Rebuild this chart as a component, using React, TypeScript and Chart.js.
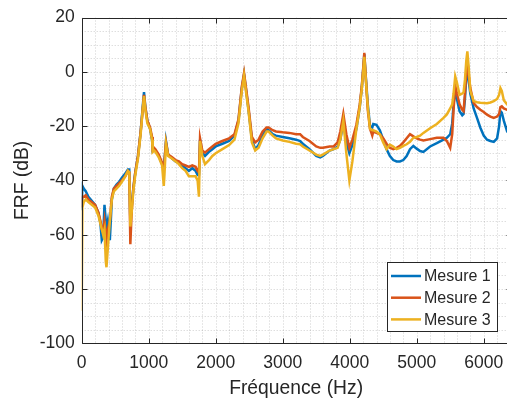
import React, { useEffect, useRef } from "react";
import { Chart, registerables } from "chart.js";

Chart.register(...registerables);

// Frequencies (Hz)
const freqs = [
  0, 10, 30, 60, 100, 150, 200, 250, 280, 300, 320, 340, 360, 370, 390, 420, 450, 480, 520, 560,
  600, 650, 690, 710, 726, 745, 770, 800, 840, 880, 910, 930, 950, 980, 1020, 1050, 1060, 1080, 1100, 1150,
  1200, 1225, 1235, 1258, 1290, 1350, 1400, 1450, 1500, 1550, 1600, 1650, 1700, 1730, 1750, 1766, 1800, 1840, 1900, 1950,
  2000, 2100, 2200, 2280, 2340, 2390, 2423, 2450, 2490, 2540, 2590, 2640, 2700, 2760, 2790, 2850, 2900, 3000, 3100, 3200,
  3260, 3300, 3400, 3500, 3560, 3600, 3700, 3760, 3820, 3860, 3905, 3950, 3995, 4040, 4100, 4150, 4180, 4205, 4218, 4235,
  4270, 4303, 4337, 4352, 4400, 4450, 4500, 4550, 4600, 4650, 4700, 4750, 4800, 4850, 4900, 4950, 5000, 5050, 5100, 5200,
  5300, 5400, 5450, 5500, 5530, 5550, 5575, 5600, 5640, 5680, 5700, 5720, 5740, 5756, 5775, 5800, 5850, 5900, 5950, 6000,
  6050, 6100, 6150, 6200, 6230, 6250, 6270, 6300, 6350, 6400,
];

// FRF (dB)
const mesure1 = [
  -51, -42, -43, -44, -46, -47.5, -49, -52, -56, -62, -61, -49, -55, -58, -55, -62, -47, -43, -41.5, -40.5,
  -39, -37.5, -36, -36, -55, -50, -43, -37, -31, -22, -13, -7.5, -13, -18, -21, -25, -29, -28.5, -29, -31,
  -34, -36, -33, -25.5, -30.5, -32, -33, -33.5, -34.5, -35.5, -36.5, -35.5, -36.5, -38, -38, -25, -30, -31, -29.5, -28.5,
  -27.5, -26.5, -25.5, -23.5, -18, -6, -1, -6, -14, -25, -28.5, -27, -23.5, -21, -21.5, -23, -23.5, -24, -24.5, -25,
  -25.5, -26.5, -28.5, -31, -31.5, -31, -29, -28.5, -27.5, -25, -18.5, -26, -30, -27, -21, -13, -6, 2, 6.5, 0,
  -12, -20, -20.5, -19.2, -19.5, -21.5, -25, -28.5, -31, -32.5, -33, -33, -32.5, -31, -28.5, -27.3, -28.3, -29.2, -29.5, -27.5,
  -26.3, -25, -24.3, -23, -19, -12, -7, -10, -14.5, -16, -15.5, -10, -2, 3, -3, -8, -13.5, -17, -20.6, -23.5,
  -25, -25.5, -25.8, -24.5, -20, -14.5, -15, -18, -22, -23,
];

const mesure2 = [
  -50, -46, -46, -45.5, -47, -48, -49, -52, -55, -58, -59, -55, -60, -62, -58, -55, -46, -43, -42, -41,
  -40, -38.5, -36.5, -37, -63.5, -52, -43, -37, -31, -22, -14, -8.5, -13, -18, -20.5, -24, -28.5, -28, -28.5, -30.5,
  -33.5, -35, -33, -26, -30.5, -31.5, -32.5, -33, -34, -34.5, -35, -34.5, -35, -36.5, -37, -24.5, -29, -29.8, -28.5, -27.5,
  -26.5, -25.5, -24.5, -23, -17.5, -5.5, -0.5, -5.5, -13, -24, -26, -25, -22, -20.5, -20.5, -21.5, -22, -22.3, -22.5, -23,
  -23, -24, -25.5, -27.5, -28, -28, -27.5, -27.5, -26, -22, -15.5, -23, -28, -25, -19.5, -12, -5.5, 2.5, 7, 0,
  -14, -21, -23.5, -22, -22.5, -23, -24.5, -26.5, -28, -28.5, -28, -27.3, -26, -24.5, -23, -23.8, -24.5, -25, -25.3, -24.8,
  -24.3, -24.3, -25.5, -28, -23, -14, -5, -8, -12, -14, -14.5, -8, 0, 5, -1, -6, -11.5, -13, -14, -14.8,
  -15.8, -16.5, -17, -16.5, -15.5, -13, -12.7, -13.5, -14, -14.2,
];

const mesure3 = [
  -88, -50, -48, -47, -48, -49, -50, -53, -56, -58, -60, -58, -70, -72, -65, -55, -47, -44, -43, -42,
  -40.5, -38.5, -36.5, -37, -57, -52, -44, -38, -32, -23, -14, -9, -14, -19, -21, -25, -29.5, -29, -29.5, -31.5,
  -34.5, -42, -38, -26.5, -31, -32, -33, -34, -35.5, -36.5, -38.5, -38.5, -38.5, -40, -46, -25.5, -31, -34, -32.5, -31,
  -30, -28.5, -27, -25, -19, -7, -1.5, -7, -14.5, -26, -29, -28, -24.5, -22, -22, -23.5, -24.5, -25.3, -25.8, -26.5,
  -26.7, -27.5, -29, -30.5, -31, -30.5, -29, -28.5, -28, -25, -18, -30, -40, -33, -21, -13, -6.5, 1, 5.5, -1,
  -13, -21, -21.5, -21.5, -22, -23, -26, -28.5, -26.8, -27.5, -28.5, -28, -27.3, -26.7, -25.8, -24.3, -24, -23.5, -22.5, -20.8,
  -19.2, -17, -15.7, -13.5, -12, -8, -1.7, -4, -8.5, -8, -7.5, -3, 4, 7.5, 2, -7, -10.8, -11.2, -11.4, -11.5,
  -11.6, -11.3, -10.8, -10, -8.5, -6, -7, -10.5, -12, -12.5,
];

const seriesLabels = ["Mesure 1", "Mesure 2", "Mesure 3"];
const seriesColors = ["#0072BD", "#D95319", "#EDB120"];
const seriesValues = [mesure1, mesure2, mesure3];

const xMin = 0;
const xMax = 6400;
const xMinorStep = 200;
const xTickValues = [0, 1000, 2000, 3000, 4000, 5000, 6000];
const yMin = -100;
const yMax = 20;
const yMinorStep = 5;
const yTickValues = [-100, -80, -60, -40, -20, 0, 20];

const xTitle = "Fréquence (Hz)";
const yTitle = "FRF (dB)";

const FONT = "'Liberation Sans', Arial, Helvetica, sans-serif";
const TEXT = "#262626";

const framePlugin = {
  id: "matlabFrame",
  beforeDatasetsDraw(chart: any) {
    const { ctx, chartArea: a, scales } = chart;
    const xs = scales.x;
    const ys = scales.y;
    ctx.save();
    ctx.beginPath();
    ctx.rect(a.left, a.top, a.right - a.left, a.bottom - a.top);
    ctx.clip();
    ctx.strokeStyle = "rgba(38,38,38,0.22)";
    ctx.lineWidth = 1;
    ctx.setLineDash([1, 2]);
    for (let v = xMin; v <= xMax; v += xMinorStep) {
      const x = Math.round(xs.getPixelForValue(v)) + 0.5;
      ctx.beginPath();
      ctx.moveTo(x, a.top);
      ctx.lineTo(x, a.bottom);
      ctx.stroke();
    }
    for (let v = yMin; v <= yMax; v += yMinorStep) {
      const y = Math.round(ys.getPixelForValue(v)) + 0.5;
      ctx.beginPath();
      ctx.moveTo(a.left, y);
      ctx.lineTo(a.right, y);
      ctx.stroke();
    }
    ctx.restore();
  },
  afterDraw(chart: any) {
    const { ctx, chartArea: a, scales } = chart;
    const xs = scales.x;
    const ys = scales.y;
    ctx.save();
    ctx.strokeStyle = TEXT;
    ctx.lineWidth = 1;
    ctx.setLineDash([]);
    const L = Math.round(a.left) + 0.5;
    const R = Math.round(a.right) + 0.5;
    const T = Math.round(a.top) + 0.5;
    const B = Math.round(a.bottom) + 0.5;
    ctx.beginPath();
    ctx.moveTo(L, T);
    ctx.lineTo(R, T);
    ctx.lineTo(R, B);
    ctx.lineTo(L, B);
    ctx.closePath();
    const tl = 5;
    xTickValues.forEach((v) => {
      const x = Math.round(xs.getPixelForValue(v)) + 0.5;
      ctx.moveTo(x, B);
      ctx.lineTo(x, B - tl);
      ctx.moveTo(x, T);
      ctx.lineTo(x, T + tl);
    });
    yTickValues.forEach((v) => {
      const y = Math.round(ys.getPixelForValue(v)) + 0.5;
      ctx.moveTo(L, y);
      ctx.lineTo(L + tl, y);
      ctx.moveTo(R, y);
      ctx.lineTo(R - tl, y);
    });
    ctx.stroke();

    // legend (inside, south-east)
    const lx = 387;
    const ly = 262;
    const lw = 110;
    const lh = 69;
    ctx.fillStyle = "#ffffff";
    ctx.fillRect(lx, ly, lw, lh);
    ctx.strokeStyle = TEXT;
    ctx.strokeRect(lx + 0.5, ly + 0.5, lw, lh);
    ctx.font = `16px ${FONT}`;
    ctx.textBaseline = "middle";
    ctx.textAlign = "left";
    chart.data.datasets.forEach((ds: any, i: number) => {
      const cy = ly + 14 + i * 21.7;
      ctx.strokeStyle = ds.borderColor;
      ctx.lineWidth = 2.5;
      ctx.beginPath();
      ctx.moveTo(lx + 4, cy);
      ctx.lineTo(lx + 34, cy);
      ctx.stroke();
      ctx.fillStyle = TEXT;
      ctx.fillText(ds.label, lx + 37, cy + 1);
    });
    ctx.restore();
  },
};

export default function App() {
  const ref = useRef<HTMLCanvasElement | null>(null);

  useEffect(() => {
    if (!ref.current) return;
    const chart = new Chart(ref.current, {
      type: "line",
      data: {
        datasets: seriesValues.map((vals, i) => ({
          label: seriesLabels[i],
          data: freqs.map((f, k) => ({ x: f, y: vals[k] })),
          borderColor: seriesColors[i],
          backgroundColor: seriesColors[i],
          borderWidth: 2.5,
          pointRadius: 0,
          tension: 0,
          fill: false,
          order: 3 - i,
        })),
      },
      options: {
        animation: false,
        responsive: false,
        devicePixelRatio: 1,
        events: [],
        layout: { padding: { top: 16, right: 9.5, left: 0, bottom: 0 } },
        plugins: { legend: { display: false }, tooltip: { enabled: false } },
        scales: {
          x: {
            type: "linear",
            min: xMin,
            max: xMax,
            grid: { display: false, drawTicks: false },
            border: { display: false },
            afterBuildTicks: (s: any) => {
              s.ticks = xTickValues.map((v) => ({ value: v }));
            },
            ticks: {
              autoSkip: false,
              maxRotation: 0,
              minRotation: 0,
              padding: 9,
              color: TEXT,
              font: { family: FONT, size: 17.5 },
              callback: (v: any) => String(v),
            },
            title: {
              display: true,
              text: xTitle,
              color: TEXT,
              font: { family: FONT, size: 19.3 },
              padding: { top: 0, bottom: 1 },
            },
            afterFit: (s: any) => {
              s.height = 401 - 343.3;
            },
          },
          y: {
            type: "linear",
            min: yMin,
            max: yMax,
            grid: { display: false, drawTicks: false },
            border: { display: false },
            afterBuildTicks: (s: any) => {
              s.ticks = yTickValues.map((v) => ({ value: v }));
            },
            ticks: {
              autoSkip: false,
              padding: 7,
              color: TEXT,
              font: { family: FONT, size: 17.5 },
              callback: (v: any) => String(v),
            },
            title: {
              display: true,
              text: yTitle,
              color: TEXT,
              font: { family: FONT, size: 19.3 },
              padding: { top: 11, bottom: 0 },
            },
            afterFit: (s: any) => {
              s.width = 81.7;
            },
          },
        },
      },
      plugins: [framePlugin],
    });
    return () => chart.destroy();
  }, []);

  return (
    <div
      style={{
        position: "fixed",
        left: 0,
        top: 0,
        width: 507,
        height: 401,
        overflow: "hidden",
        background: "#ffffff",
      }}
    >
      <canvas ref={ref} width={520} height={401} style={{ display: "block", width: 520, height: 401 }} />
    </div>
  );
}
